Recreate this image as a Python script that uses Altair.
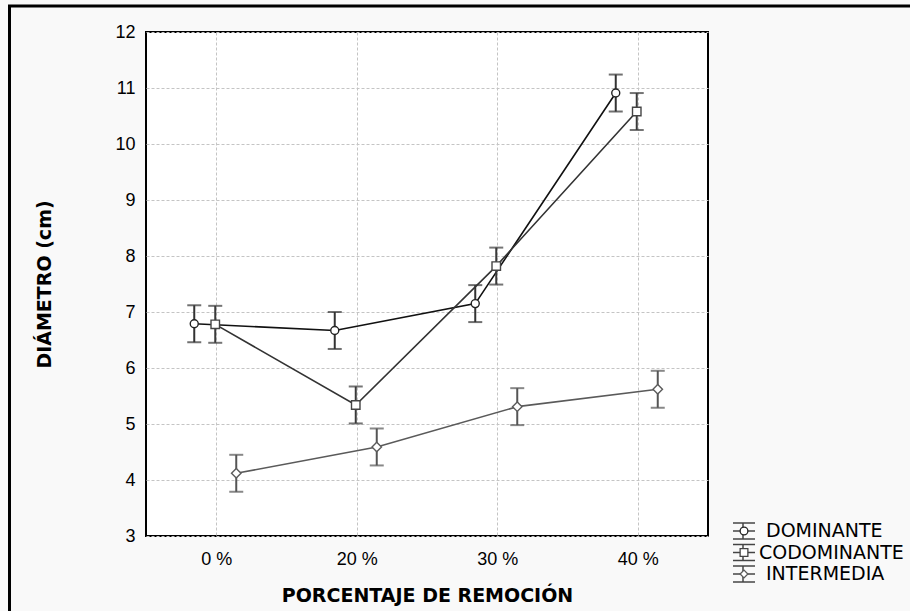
import altair as alt
import pandas as pd

# Categories and series
porcentajes = ["0 %", "20 %", "30 %", "40 %"]
series = ["DOMINANTE", "CODOMINANTE", "INTERMEDIA"]

# Mean diameter (cm) per removal level
diam_dominante = [6.79, 6.67, 7.15, 10.91]
diam_codominante = [6.78, 5.34, 7.82, 10.58]
diam_intermedia = [4.12, 4.59, 5.31, 5.62]

# Half-width of the error bars (cm)
err_dominante = [0.33, 0.33, 0.33, 0.33]
err_codominante = [0.33, 0.33, 0.33, 0.33]
err_intermedia = [0.33, 0.33, 0.33, 0.33]

y_ticks = [3, 4, 5, 6, 7, 8, 9, 10, 11, 12]

valores = {"DOMINANTE": (diam_dominante, err_dominante),
           "CODOMINANTE": (diam_codominante, err_codominante),
           "INTERMEDIA": (diam_intermedia, err_intermedia)}

rows = []
for s in series:
    medias, errores = valores[s]
    for p, m, e in zip(porcentajes, medias, errores):
        rows.append({"serie": s, "porcentaje": p, "diametro": m, "error": e})
df = pd.DataFrame(rows)

# Per-series drawing style
estilo = {
    "DOMINANTE": dict(dx=-22, linea="#111111", barra="#333333", borde="#222222",
                      forma="circle", area=64, sangria=7),
    "CODOMINANTE": dict(dx=-1, linea="#333333", barra="#3a3a3a", borde="#444444",
                        forma="square", area=72, sangria=0),
    "INTERMEDIA": dict(dx=20, linea="#5a5a5a", barra="#555555", borde="#5a5a5a",
                       forma="diamond", area=90, sangria=7),
}

grid_color = "#c4c4c4"

x_enc = alt.X(
    "porcentaje:N",
    sort=porcentajes,
    scale=alt.Scale(type="point", domain=porcentajes, padding=0.5),
    axis=alt.Axis(
        title="PORCENTAJE DE REMOCIÓN", labelAngle=0, ticks=False, domain=False,
        grid=True, gridColor=grid_color, gridDash=[3, 2], gridWidth=1,
        labelFont="Liberation Sans", labelFontSize=18, labelColor="#000000", labelPadding=14,
        titleFont="DejaVu Sans", titleFontSize=19, titleFontWeight="bold",
        titleColor="#000000", titlePadding=18,
    ),
)

y_scale = alt.Scale(domain=[3, 12], nice=False, zero=False)
y_axis = alt.Axis(
    title="DIÁMETRO (cm)", values=y_ticks, ticks=False, domain=False,
    grid=True, gridColor=grid_color, gridDash=[3, 2], gridWidth=1,
    labelFont="Liberation Sans", labelFontSize=18, labelColor="#000000", labelPadding=11,
    titleFont="DejaVu Sans", titleFontSize=19, titleFontWeight="bold",
    titleColor="#000000", titlePadding=60,
)

def y_of(field):
    return alt.Y(f"{field}:Q", scale=y_scale, axis=y_axis)

base = alt.Chart(df).transform_calculate(
    lo="datum.diametro - datum.error", hi="datum.diametro + datum.error"
)

capas = []
for s in series:
    st = estilo[s]
    b = base.transform_filter(alt.datum.serie == s)
    linea = b.mark_line(xOffset=st["dx"], color=st["linea"], strokeWidth=1.6).encode(
        x=x_enc, y=y_of("diametro"), order="porcentaje:N")
    barra = b.mark_rule(xOffset=st["dx"], color=st["barra"], strokeWidth=2).encode(
        x=x_enc, y=y_of("lo"), y2="hi:Q")
    tope = b.mark_tick(xOffset=st["dx"], color=st["barra"], orient="horizontal",
                       size=14, thickness=2).encode(x=x_enc, y=y_of("hi"))
    base_cap = b.mark_tick(xOffset=st["dx"], color=st["barra"], orient="horizontal",
                           size=14, thickness=2).encode(x=x_enc, y=y_of("lo"))
    punto = b.mark_point(xOffset=st["dx"], shape=st["forma"], size=st["area"], filled=True,
                         fill="#ffffff", stroke=st["borde"], strokeWidth=1.4, opacity=1).encode(
        x=x_enc, y=y_of("diametro"))
    capas += [linea, barra, tope, base_cap, punto]

principal = alt.layer(*capas)

# Legend drawn beside the plot, below its right edge
ley_df = pd.DataFrame({"serie": series})
ley_y = alt.Y("serie:N", scale=alt.Scale(type="point", domain=series, range=[499, 542], padding=0),
              axis=None)
forma_scale = alt.Scale(domain=series, range=[estilo[s]["forma"] for s in series])
borde_scale = alt.Scale(domain=series, range=[estilo[s]["borde"] for s in series])
ley = alt.Chart(ley_df)
gx = 598
ley_capas = [
    ley.mark_rule(color="#444444", strokeWidth=1.5, yOffset=-8, y2Offset=8).encode(
        x=alt.value(gx - 1), y=ley_y, y2=alt.Y2("serie:N")),
    ley.mark_rule(color="#444444", strokeWidth=1.5, yOffset=-8).encode(
        x=alt.value(gx - 11), x2=alt.value(gx + 11), y=ley_y),
    ley.mark_rule(color="#444444", strokeWidth=1.5, yOffset=8).encode(
        x=alt.value(gx - 11), x2=alt.value(gx + 11), y=ley_y),
    ley.mark_rule(color="#444444", strokeWidth=1.5).encode(
        x=alt.value(gx - 11), x2=alt.value(gx + 11), y=ley_y),
    ley.mark_point(filled=True, fill="#ffffff", size=60, strokeWidth=1.3, opacity=1).encode(
        x=alt.value(gx), y=ley_y,
        shape=alt.Shape("serie:N", scale=forma_scale, legend=None),
        stroke=alt.Stroke("serie:N", scale=borde_scale, legend=None)),
]
for s in series:
    ley_capas.append(
        ley.transform_filter(alt.datum.serie == s).mark_text(
            align="left", baseline="middle", font="DejaVu Sans", fontSize=19,
            color="#000000", dx=estilo[s]["sangria"]).encode(
            x=alt.value(613), y=ley_y, text="serie:N"))
leyenda = alt.layer(*ley_capas)

# Outer border lines of the figure
marco_df = pd.DataFrame({"k": [0]})
marco = alt.layer(
    alt.Chart(marco_df).mark_rule(color="#000000", strokeWidth=3).encode(
        x=alt.value(-136.5), y=alt.value(-27), y2=alt.value(580)),
    alt.Chart(marco_df).mark_rule(color="#000000", strokeWidth=3).encode(
        x=alt.value(-138), x2=alt.value(765), y=alt.value(-26)),
)

chart = alt.layer(marco, principal, leyenda).resolve_scale(y="independent").properties(
    width=562, height=504,
    autosize=alt.AutoSizeParams(type="none"),
    padding={"left": 146, "top": 32, "right": 202, "bottom": 75},
    background="#f9f9f9",
).configure_view(stroke="#000000", strokeWidth=2, fill="#ffffff")

chart.save("out.html", embed_options={"renderer": "svg", "actions": False})
